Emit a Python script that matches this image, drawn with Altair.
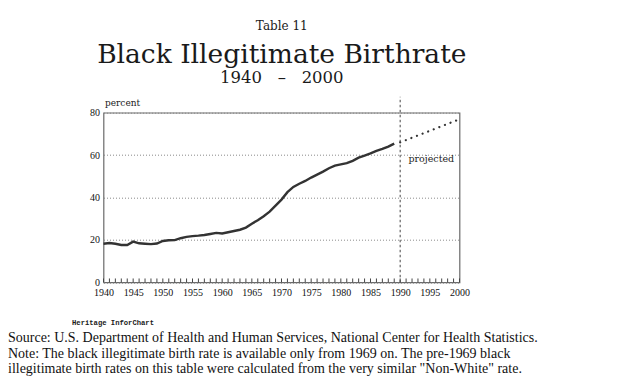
import altair as alt
import pandas as pd

# ---- data ----
years = list(range(1940, 1990))
rates = [18.2, 18.5, 18.2, 17.6, 17.6, 19.2, 18.4, 18.2, 18.0, 18.3,
         19.5, 19.8, 19.9, 20.8, 21.4, 21.8, 22.0, 22.3, 22.8, 23.3,
         23.0, 23.6, 24.2, 24.8, 25.8, 27.6, 29.3, 31.2, 33.3, 36.2,
         39.0, 42.5, 45.0, 46.5, 47.8, 49.4, 50.8, 52.2, 53.8, 55.0,
         55.6, 56.2, 57.3, 58.8, 59.8, 60.8, 62.0, 62.9, 64.0, 65.4]
proj_years = [1990, 2000]
proj_rates = [66.0, 76.9]
tick_years = list(range(1940, 2001))
label_years = list(range(1940, 2001, 5))
y_ticks = [0, 20, 40, 60, 80]
divider_year = [1990]
divider_span = [0, 87.5]

title_small = "Table 11"
title_main = "Black Illegitimate Birthrate"
title_sub = "1940\u00a0\u00a0\u00a0\u2013\u00a0\u00a0\u00a02000"
y_unit = "percent"
proj_label = "projected"
credit = "Heritage InforChart"
source_lines = [
    "Source: U.S. Department of Health and Human Services, National Center for Health Statistics.",
    "Note: The black illegitimate birth rate is available only from 1969 on. The pre-1969 black",
    "illegitimate birth rates on this table were calculated from the very similar \"Non-White\" rate.",
]

df = pd.DataFrame({"year": years, "rate": rates})
dfp = pd.DataFrame({"year": proj_years, "rate": proj_rates})
dft = pd.DataFrame({"year": tick_years, "y0": 0.0, "y1": 1.8})
dfd = pd.DataFrame({"year": divider_year, "y0": divider_span[0], "y1": divider_span[1]})

W, H = 356, 169.6
LINE = "#333333"
LABEL_FONT = "Liberation Serif"

xs = alt.Scale(domain=[1940, 2000], nice=False, zero=False)
ys = alt.Scale(domain=[0, 80], nice=False)

xaxis = alt.Axis(values=label_years, format="d", title=None, grid=False, ticks=False,
                 domain=False, labelPadding=5, labelFlush=False, labelOverlap=False,
                 labelFont=LABEL_FONT, labelFontSize=10, labelColor="#111")
yaxis = alt.Axis(values=y_ticks, title=None, grid=True, gridDash=[1, 2], gridColor="#8a8a8a",
                 gridWidth=1, ticks=False, domain=False, labelPadding=4, labelOverlap=False,
                 labelFont=LABEL_FONT, labelFontSize=10, labelColor="#111")


def X(field):
    return alt.X(field, scale=xs, axis=xaxis, title=None)


def Y(field):
    return alt.Y(field, scale=ys, axis=yaxis, title=None)


line = alt.Chart(df).mark_line(color=LINE, strokeWidth=2.4).encode(
    x=X("year:Q"), y=Y("rate:Q"))

proj = alt.Chart(dfp).mark_line(color=LINE, strokeWidth=2.2, strokeDash=[0.1, 5.9],
                                strokeCap="round").encode(x=X("year:Q"), y=Y("rate:Q"))

ticks = alt.Chart(dft).mark_rule(color="#444", strokeWidth=1).encode(
    x=X("year:Q"), y=Y("y0:Q"), y2="y1:Q")

divider = alt.Chart(dfd).mark_rule(color="#444", strokeWidth=1, strokeDash=[2.5, 2.5]).encode(
    x=X("year:Q"), y=Y("y0:Q"), y2="y1:Q")

projtext = alt.Chart(pd.DataFrame({"t": [proj_label], "year": [1991.4], "rate": [56.6]})).mark_text(
    font="DejaVu Serif", fontSize=9.5, align="left", baseline="alphabetic", color="#222"
).encode(x=X("year:Q"), y=Y("rate:Q"), text="t:N")


def label(text, x, y, font, size, align="center", weight="normal", color="#1a1a1a"):
    return alt.Chart(pd.DataFrame({"t": [text]})).mark_text(
        font=font, fontSize=size, align=align, baseline="alphabetic", fontWeight=weight,
        color=color
    ).encode(x=alt.value(x), y=alt.value(y), text="t:N")


texts = [
    label(title_small, 178.3, -82.5, "DejaVu Serif", 12),
    label(title_main, 178.3, -49.8, "DejaVu Serif", 26.5),
    label(title_sub, 178.3, -30.0, "DejaVu Serif", 16.5),
    label(y_unit, 1.5, -6.3, "DejaVu Serif", 9, align="left"),
    label(credit, -31.5, 212.8, "Liberation Mono", 7.2, align="left", weight="bold"),
]
for i, s in enumerate(source_lines):
    texts.append(label(s, -95.5, 229.3 + 15.6 * i, "Liberation Serif", 14, align="left", color="#111"))

chart = alt.layer(line, proj, ticks, divider, projtext, *texts).properties(
    width=W, height=H,
    padding={"left": 95.5, "top": 104.7, "right": 161.5, "bottom": 97.5},
    autosize=alt.AutoSizeParams(type="none"),
    background="white",
).configure_view(stroke="#6a6a6a", strokeWidth=1.2)

chart.save("out.html", embed_options={"renderer": "svg", "actions": False})
